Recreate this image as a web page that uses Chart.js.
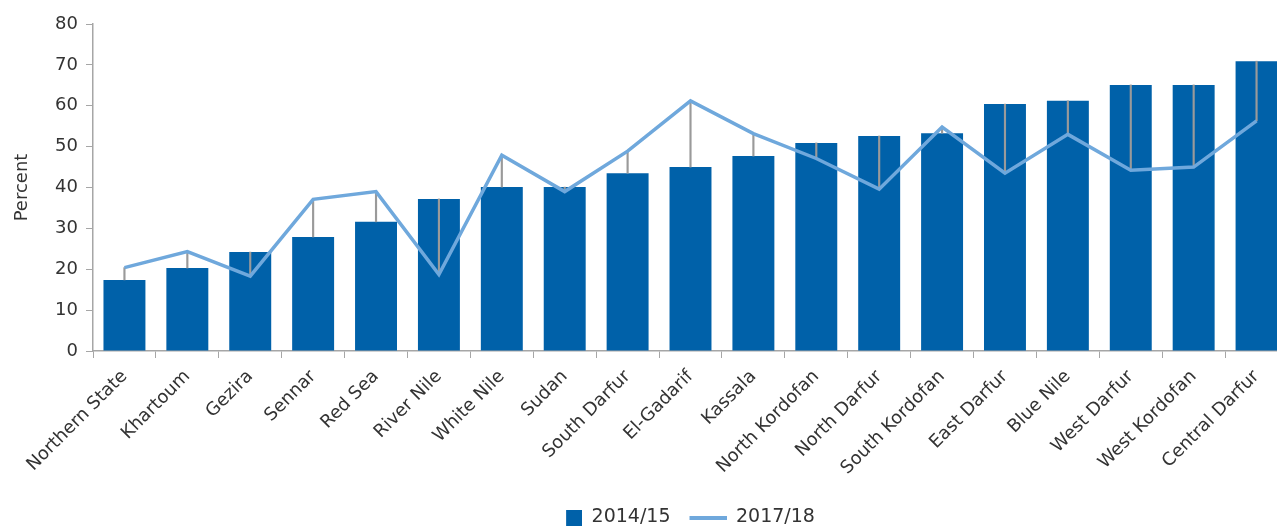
<!DOCTYPE html>
<html>
<head>
<meta charset="utf-8">
<script src="https://cdn.jsdelivr.net/npm/chart.js@4/dist/chart.umd.min.js"></script>
<style>
  html, body { margin: 0; padding: 0; background: #fff; overflow: hidden; }
  #wrap { width: 1277px; height: 527px; overflow: hidden; }
</style>
</head>
<body>
<div id="wrap"><canvas id="chart" width="1290" height="527"></canvas></div>
<script>
// States, ordered by the 2014/15 share
const states = [
  "Northern State", "Khartoum", "Gezira", "Sennar", "Red Sea", "River Nile",
  "White Nile", "Sudan", "South Darfur", "El-Gadarif", "Kassala",
  "North Kordofan", "North Darfur", "South Kordofan", "East Darfur",
  "Blue Nile", "West Darfur", "West Kordofan", "Central Darfur"
];
const share1415 = [17.4, 20.3, 24.2, 27.9, 31.6, 37.2, 40.1, 40.1, 43.5, 45.0,
                   47.7, 50.9, 52.6, 53.3, 60.4, 61.2, 65.1, 65.1, 70.9];
const share1718 = [20.4, 24.3, 18.3, 37.1, 39.0, 18.7, 47.9, 39.0, 48.9, 61.2,
                   53.2, 47.1, 39.6, 54.8, 43.5, 53.0, 44.2, 45.0, 56.3];
const yMin = 0, yMax = 80, yStep = 10;

const BAR_BLUE = "#0061a9";
const LINE_BLUE = "#6fa8dc";
const DROP_GREY = "#9a9a9a";
const TEXT = "#333333";
const AXIS = "#a6a6a6";
const FONT = "'DejaVu Sans', sans-serif";

// gray connector between the two years for each state
const dropLines = share1415.map((v, i) => [Math.min(v, share1718[i]), Math.max(v, share1718[i])]);

// legend icons: square for bars, short stroke for the line (right-aligned in a 48px slot)
function makeIcon(w, h, draw) {
  const c = document.createElement("canvas");
  c.width = w; c.height = h;
  draw(c.getContext("2d"));
  return c;
}
const squareIcon = makeIcon(48, 16, g => { g.fillStyle = BAR_BLUE; g.fillRect(32, 0, 16, 16); });
const lineIcon = makeIcon(48, 4, g => { g.fillStyle = LINE_BLUE; g.fillRect(11, 0, 37, 4); });
const legendIcons = { 0: squareIcon, 2: lineIcon };

// the blank lead-in of the square slot pushes the legend right; pull it back
const legendNudge = {
  id: "legendNudge",
  afterLayout(chart) {
    chart.legend.left -= 16;
    chart.legend.right -= 16;
  }
};

new Chart(document.getElementById("chart"), {
  type: "bar",
  data: {
    labels: states,
    datasets: [
      {
        label: "2014/15",
        data: share1415,
        backgroundColor: BAR_BLUE,
        grouped: false,
        barPercentage: 0.667,
        categoryPercentage: 1,
        order: 2
      },
      {
        label: "drop",
        data: dropLines,
        backgroundColor: DROP_GREY,
        grouped: false,
        barThickness: 1.5,
        order: 1
      },
      {
        type: "line",
        label: "2017/18",
        data: share1718,
        borderColor: LINE_BLUE,
        backgroundColor: LINE_BLUE,
        borderWidth: 3.5,
        pointRadius: 0,
        tension: 0,
        order: 0
      }
    ]
  },
  plugins: [legendNudge],
  options: {
    responsive: false,
    animation: false,
    layout: { padding: { left: 12, right: 2, top: 24, bottom: -10 } },
    plugins: {
      tooltip: { enabled: false },
      legend: {
        position: "bottom",
        fullSize: false,
        labels: {
          usePointStyle: true,
          pointStyleWidth: 48,
          padding: 8,
          color: TEXT,
          font: { family: FONT, size: 19 },
          sort: (a, b) => a.datasetIndex - b.datasetIndex,
          generateLabels(chart) {
            const items = Chart.defaults.plugins.legend.labels.generateLabels(chart);
            return items
              .filter(it => it.datasetIndex !== 1)
              .map(it => { it.pointStyle = legendIcons[it.datasetIndex]; return it; });
          }
        }
      }
    },
    scales: {
      x: {
        afterFit(scale) { scale.height = 149; },
        grid: { drawOnChartArea: false, color: AXIS, tickLength: 7, offset: true },
        border: { color: AXIS, width: 1.5 },
        ticks: {
          autoSkip: false, maxRotation: 45, minRotation: 45,
          color: TEXT, font: { family: FONT, size: 18 }, padding: 8
        }
      },
      y: {
        min: yMin, max: yMax,
        afterFit(scale) { scale.width = 81; },
        grid: { drawOnChartArea: false, color: AXIS, tickLength: 7 },
        border: { color: AXIS, width: 1.5 },
        ticks: { stepSize: yStep, color: TEXT, font: { family: FONT, size: 18 }, padding: 8 },
        title: {
          display: true, text: "Percent", color: TEXT,
          font: { family: FONT, size: 18 }, padding: { top: 0, bottom: 0 }
        }
      }
    }
  }
});
</script>
</body>
</html>
